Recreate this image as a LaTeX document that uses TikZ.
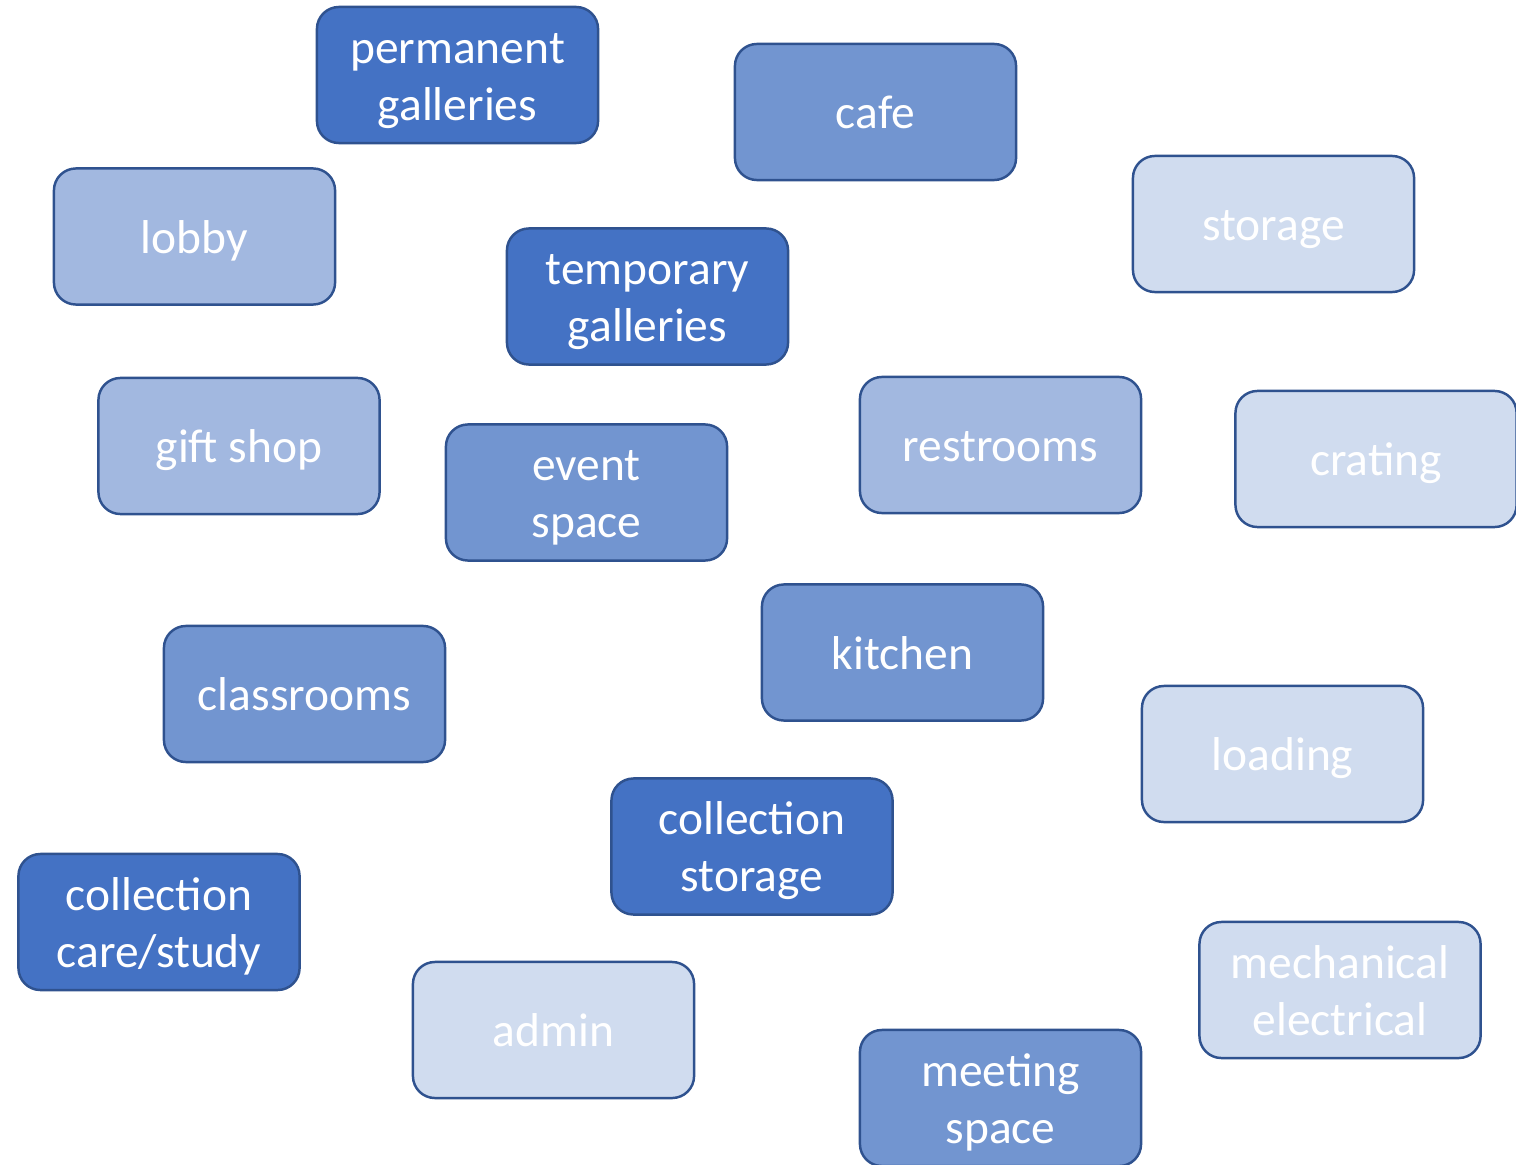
\documentclass[tikz,border=0pt]{standalone}
\usepackage{fontspec}
\setmainfont{Carlito}
\usepackage{xcolor}
\usepackage{tikz}
\definecolor{roomline}{HTML}{2F528F}
\definecolor{roomdark}{HTML}{4472C4}
\definecolor{roommid}{HTML}{7295D0}
\definecolor{roomlight}{HTML}{A2B8E0}
\definecolor{roompale}{HTML}{D0DCEF}
% struts: top of first line, bottom of last line
\newcommand{\roomtop}{\rule{0pt}{14pt}}
\newcommand{\roombot}{\rule[-4.4pt]{0pt}{4.4pt}}

\begin{document}
\begin{tikzpicture}[x=0.01cm,y=-0.01cm,
       room/.style={draw=roomline, line width=0.7pt, rounded corners=0.22cm,
              minimum width=2.81cm, minimum height=1.36cm, align=center,
              inner ysep=0pt, text=white, font=\fontsize{13.5}{16.2}\selectfont},
       dark/.style={room, fill=roomdark},
       mid/.style={room, fill=roommid},
       light/.style={room, fill=roomlight},
       pale/.style={room, fill=roompale}]
       \useasboundingbox (0,0) rectangle (1516,1164);
       \clip (0,0) rectangle (1516,1164);
       
       \node[dark] (perm) at (457.5,75) {\roomtop permanent\\galleries\roombot};
       \node[mid] (cafe) at (875.5,112) {\roomtop cafe\roombot};
       \node[pale] (storage) at (1273.5,224) {\roomtop storage\roombot};
       \node[light] (lobby) at (194.5,236.5) {\roomtop lobby\roombot};
       \node[dark] (temp) at (647.5,296.5) {\roomtop temporary\\galleries\roombot};
       
       \node[light] (gift) at (239,446) {\roomtop gift shop\roombot};
       \node[mid] (event) at (586.5,492.5) {\roomtop event\\space\roombot};
       \node[light] (rest) at (1000.5,445) {\roomtop restrooms\roombot};
       \node[pale] (crating) at (1376,459) {\roomtop crating\roombot};
       
       \node[mid] (kitchen) at (902.5,652.5) {\roomtop kitchen\roombot};
       \node[mid] (class) at (304.5,694) {\roomtop classrooms\roombot};
       \node[pale] (loading) at (1282.5,754) {\roomtop loading\roombot};
       \node[dark] (collstor) at (752,846.5) {\roomtop collection\\storage\roombot};
       
       \node[dark] (collcare) at (159,922) {\roomtop collection\\care/study\roombot};
       \node[pale] (admin) at (553.5,1030) {\roomtop admin\roombot};
       \node[pale] (mech) at (1340,990) {\roomtop mechanical\\electrical\roombot};
       \node[mid] (meeting) at (1000.5,1098) {\roomtop meeting\\space\roombot};
\end{tikzpicture}
\end{document}
